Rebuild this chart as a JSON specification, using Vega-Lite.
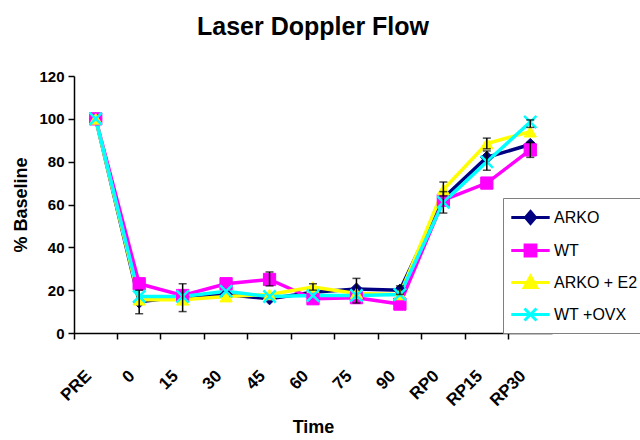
{
  "$schema": "https://vega.github.io/schema/vega-lite/v6.json",
  "width": 478,
  "height": 257,
  "autosize": "none",
  "padding": {"left": 74, "top": 76, "right": 88, "bottom": 107},
  "background": "white",
  "title": {"text": "Laser Doppler Flow", "font": "Liberation Sans", "fontSize": 25, "fontWeight": "bold", "anchor": "middle", "offset": 29, "color": "black"},
  "config": {
    "view": {"stroke": null},
    "axis": {"domainColor": "black", "tickColor": "black", "labelColor": "black", "titleColor": "black", "grid": false},
    "axisX": {"labelPadding": 40, "labelOffset": -7}
  },
  "datasets": {
    "main": [
      {"series": "ARKO", "time": "PRE", "value": 100},
      {"series": "ARKO", "time": "0", "value": 14.5},
      {"series": "ARKO", "time": "15", "value": 17},
      {"series": "ARKO", "time": "30", "value": 18},
      {"series": "ARKO", "time": "45", "value": 16},
      {"series": "ARKO", "time": "60", "value": 19},
      {"series": "ARKO", "time": "75", "value": 20.5},
      {"series": "ARKO", "time": "90", "value": 20},
      {"series": "ARKO", "time": "RP0", "value": 63},
      {"series": "ARKO", "time": "RP15", "value": 82},
      {"series": "ARKO", "time": "RP30", "value": 88},
      {"series": "WT", "time": "PRE", "value": 100},
      {"series": "WT", "time": "0", "value": 23},
      {"series": "WT", "time": "15", "value": 17.5},
      {"series": "WT", "time": "30", "value": 23},
      {"series": "WT", "time": "45", "value": 25},
      {"series": "WT", "time": "60", "value": 16},
      {"series": "WT", "time": "75", "value": 16.5},
      {"series": "WT", "time": "90", "value": 13.5},
      {"series": "WT", "time": "RP0", "value": 62},
      {"series": "WT", "time": "RP15", "value": 70},
      {"series": "WT", "time": "RP30", "value": 85.5},
      {"series": "ARKO + E2", "time": "PRE", "value": 100},
      {"series": "ARKO + E2", "time": "0", "value": 15.5},
      {"series": "ARKO + E2", "time": "15", "value": 15.5},
      {"series": "ARKO + E2", "time": "30", "value": 17},
      {"series": "ARKO + E2", "time": "45", "value": 18},
      {"series": "ARKO + E2", "time": "60", "value": 21.5},
      {"series": "ARKO + E2", "time": "75", "value": 18.5},
      {"series": "ARKO + E2", "time": "90", "value": 18},
      {"series": "ARKO + E2", "time": "RP0", "value": 67},
      {"series": "ARKO + E2", "time": "RP15", "value": 88.5},
      {"series": "ARKO + E2", "time": "RP30", "value": 94},
      {"series": "WT +OVX", "time": "PRE", "value": 100},
      {"series": "WT +OVX", "time": "0", "value": 17},
      {"series": "WT +OVX", "time": "15", "value": 17},
      {"series": "WT +OVX", "time": "30", "value": 19.5},
      {"series": "WT +OVX", "time": "45", "value": 17},
      {"series": "WT +OVX", "time": "60", "value": 17.5},
      {"series": "WT +OVX", "time": "75", "value": 17.5},
      {"series": "WT +OVX", "time": "90", "value": 18},
      {"series": "WT +OVX", "time": "RP0", "value": 61},
      {"series": "WT +OVX", "time": "RP15", "value": 80},
      {"series": "WT +OVX", "time": "RP30", "value": 98.5}
    ],
    "err": [
      {"series": "ARKO", "time": "0", "lo": 9, "hi": 20},
      {"series": "ARKO", "time": "15", "lo": 10, "hi": 23},
      {"series": "WT", "time": "45", "lo": 22, "hi": 28.5},
      {"series": "ARKO + E2", "time": "60", "lo": 20, "hi": 23},
      {"series": "ARKO", "time": "75", "lo": 14, "hi": 25.5},
      {"series": "ARKO", "time": "90", "lo": 18, "hi": 22},
      {"series": "ARKO + E2", "time": "RP0", "lo": 64, "hi": 70.5},
      {"series": "WT +OVX", "time": "RP0", "lo": 56, "hi": 66},
      {"series": "ARKO + E2", "time": "RP15", "lo": 86, "hi": 91},
      {"series": "ARKO", "time": "RP15", "lo": 76, "hi": 85},
      {"series": "WT", "time": "RP30", "lo": 82, "hi": 89},
      {"series": "WT +OVX", "time": "RP30", "lo": 96, "hi": 99.5}
    ]
  },
  "resolve": {"axis": {"x": "independent"}},
  "layer": [
    {
      "data": {"name": "main"},
      "mark": {"type": "line", "strokeWidth": 3.5},
      "encoding": {
        "x": {
          "field": "time", "type": "nominal",
          "sort": ["PRE", "0", "15", "30", "45", "60", "75", "90", "RP0", "RP15", "RP30"],
          "scale": {"paddingInner": 0, "paddingOuter": 0},
          "axis": {
            "orient": "bottom", "title": "Time", "titleFont": "Liberation Sans", "titleFontSize": 18, "titleFontWeight": "bold", "titlePadding": 10,
            "labelFont": "Liberation Sans", "labelFontSize": 17, "labelFontWeight": "bold",
            "labelAngle": -45, "labelAlign": "right", "labelBaseline": "middle",
            "ticks": false, "domain": true, "domainWidth": 1.5, "bandPosition": 0.5
          }
        },
        "y": {
          "field": "value", "type": "quantitative",
          "scale": {"domain": [0, 120], "nice": false},
          "axis": {
            "title": "% Baseline", "titleFont": "Liberation Sans", "titleFontSize": 18, "titleFontWeight": "bold", "titlePadding": 8,
            "values": [0, 20, 40, 60, 80, 100, 120],
            "labelFont": "Liberation Sans", "labelFontSize": 15, "labelFontWeight": "bold", "labelPadding": 4,
            "tickSize": 6, "domainWidth": 1.5, "tickWidth": 1.5
          }
        },
        "color": {
          "field": "series", "type": "nominal",
          "scale": {"domain": ["ARKO", "WT", "ARKO + E2", "WT +OVX"], "range": ["#000080", "#FF00FF", "#FFFF00", "#00FFFF"]},
          "legend": {
            "title": null, "orient": "none", "legendX": 429, "legendY": 122, "direction": "vertical",
            "strokeColor": "#808080", "fillColor": "white", "padding": 6,
            "labelFont": "Liberation Sans", "labelFontSize": 16, "labelColor": "black", "labelOffset": 10,
            "symbolSize": 576, "symbolOffset": 8, "rowPadding": 7,
            "encode": {
              "symbols": {
                "update": {
                  "shape": {"signal": "datum.value === 'ARKO' ? 'M-1.6,0L1.6,0M0,-0.5L0.42,0L0,0.5L-0.42,0Z' : datum.value === 'WT' ? 'M-1.6,0L1.6,0M-0.45,-0.45L0.45,-0.45L0.45,0.45L-0.45,0.45Z' : datum.value === 'ARKO + E2' ? 'M-1.6,0L1.6,0M0,-0.52L0.52,0.42L-0.52,0.42Z' : 'M-1.6,0L1.6,0M-0.5,-0.5L0.5,0.5M-0.5,0.5L0.5,-0.5'"},
                  "fill": {"scale": "color", "field": "value"},
                  "stroke": {"scale": "color", "field": "value"},
                  "strokeWidth": {"value": 3},
                  "opacity": {"value": 1}
                }
              }
            }
          }
        }
      }
    },
    {
      "data": {"name": "main"},
      "transform": [{"filter": "datum.series === 'ARKO'"}],
      "mark": {"type": "point", "shape": "diamond", "filled": true, "fill": "#000080", "stroke": "#000080", "strokeWidth": 1, "size": 150, "opacity": 1},
      "encoding": {
        "x": {
          "field": "time", "type": "nominal",
          "sort": ["PRE", "0", "15", "30", "45", "60", "75", "90", "RP0", "RP15", "RP30"],
          "axis": {"orient": "bottom", "title": null, "labels": false, "domain": false, "ticks": true, "tickSize": 6, "tickWidth": 1.5, "bandPosition": 0}
        },
        "y": {"field": "value", "type": "quantitative"}
      }
    },
    {
      "data": {"name": "main"},
      "transform": [{"filter": "datum.series === 'WT'"}],
      "mark": {"type": "point", "shape": "square", "filled": true, "fill": "#FF00FF", "stroke": "#FF00FF", "strokeWidth": 1, "size": 150, "opacity": 1},
      "encoding": {
        "x": {"field": "time", "type": "nominal", "sort": ["PRE", "0", "15", "30", "45", "60", "75", "90", "RP0", "RP15", "RP30"], "axis": null},
        "y": {"field": "value", "type": "quantitative"}
      }
    },
    {
      "data": {"name": "main"},
      "transform": [{"filter": "datum.series === 'ARKO + E2'"}],
      "mark": {"type": "point", "shape": "triangle-up", "filled": true, "fill": "#FFFF00", "stroke": "#FFFF00", "strokeWidth": 1, "size": 150, "opacity": 1},
      "encoding": {
        "x": {"field": "time", "type": "nominal", "sort": ["PRE", "0", "15", "30", "45", "60", "75", "90", "RP0", "RP15", "RP30"], "axis": null},
        "y": {"field": "value", "type": "quantitative"}
      }
    },
    {
      "data": {"name": "main"},
      "transform": [{"filter": "datum.series === 'WT +OVX'"}],
      "mark": {"type": "point", "shape": "M-1,-1L1,1M-1,1L1,-1", "filled": false, "stroke": "#00FFFF", "strokeWidth": 2.5, "size": 150, "opacity": 1},
      "encoding": {
        "x": {"field": "time", "type": "nominal", "sort": ["PRE", "0", "15", "30", "45", "60", "75", "90", "RP0", "RP15", "RP30"], "axis": null},
        "y": {"field": "value", "type": "quantitative"}
      }
    },
    {
      "data": {"name": "err"},
      "mark": {"type": "rule", "color": "black", "strokeWidth": 1.5},
      "encoding": {
        "x": {"field": "time", "type": "nominal", "sort": ["PRE", "0", "15", "30", "45", "60", "75", "90", "RP0", "RP15", "RP30"], "axis": null},
        "y": {"field": "lo", "type": "quantitative"},
        "y2": {"field": "hi"}
      }
    },
    {
      "data": {"name": "err"},
      "mark": {"type": "tick", "color": "black", "size": 8, "thickness": 1.5, "orient": "horizontal"},
      "encoding": {
        "x": {"field": "time", "type": "nominal", "sort": ["PRE", "0", "15", "30", "45", "60", "75", "90", "RP0", "RP15", "RP30"], "axis": null},
        "y": {"field": "lo", "type": "quantitative"}
      }
    },
    {
      "data": {"name": "err"},
      "mark": {"type": "tick", "color": "black", "size": 8, "thickness": 1.5, "orient": "horizontal"},
      "encoding": {
        "x": {"field": "time", "type": "nominal", "sort": ["PRE", "0", "15", "30", "45", "60", "75", "90", "RP0", "RP15", "RP30"], "axis": null},
        "y": {"field": "hi", "type": "quantitative"}
      }
    }
  ]
}
